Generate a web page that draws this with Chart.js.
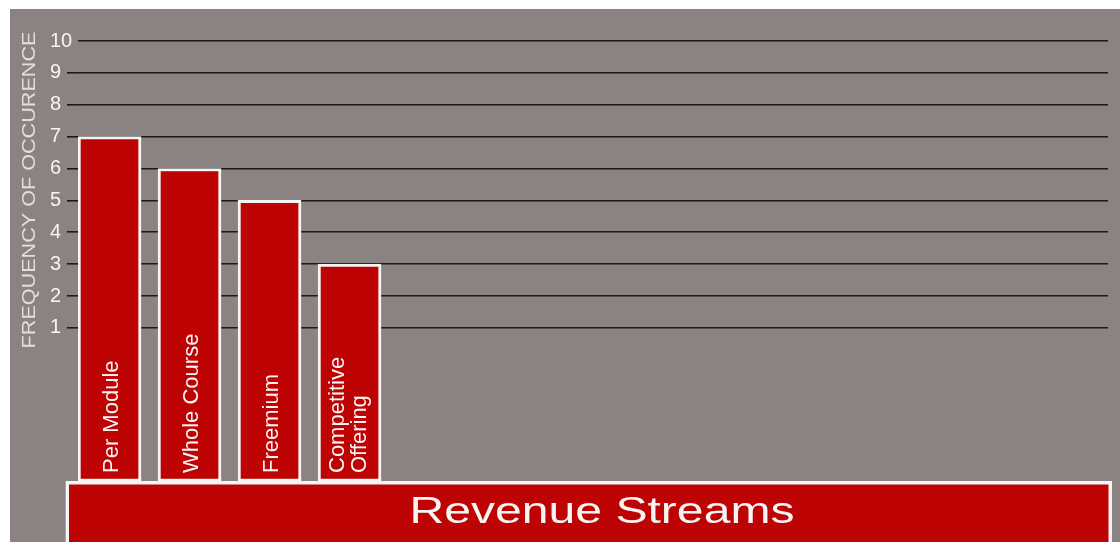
<!DOCTYPE html>
<html><head><meta charset="utf-8">
<script src="https://cdn.jsdelivr.net/npm/chart.js@4.4.1/dist/chart.umd.min.js"></script>
<style>
html,body{margin:0;padding:0;background:#ffffff;width:1120px;height:542px;overflow:hidden}
#wrap{position:absolute;left:10px;top:9px;width:1110px;height:533px;background:#8a8381}
</style></head><body>
<div id="wrap"><canvas id="c"></canvas></div>
<script>
const CATEGORIES = [["Per Module"], ["Whole Course"], ["Freemium"], ["Competitive", "Offering"]];
const FREQUENCY = [7, 6, 5, 3];
const Y_TICKS = [1, 2, 3, 4, 5, 6, 7, 8, 9, 10];
const Y_TITLE = "FREQUENCY OF OCCURENCE";
const X_TITLE = "Revenue Streams";

const RED = '#bd0303';
const WHITE = '#f7f4f4';
const GRID = '#1d1a1a';
const FONT = '"Liberation Sans", Arial, Helvetica, sans-serif';
const Y_MIN = -3.82;

const decor = {
  id: 'decor',
  afterDatasetsDraw(chart) {
    const {ctx, chartArea: ca, scales: {x}} = chart;
    ctx.save();
    const bl = ca.left - 12.5, br = ca.right + 4, bt = ca.bottom - 0.5;
    ctx.fillStyle = RED;
    ctx.fillRect(bl, bt, br - bl, chart.height - bt + 20);
    ctx.strokeStyle = WHITE;
    ctx.lineWidth = 3.5;
    ctx.strokeRect(bl + 1.75, bt + 1.75, br - bl - 3.5, chart.height - bt + 30);
    ctx.fillStyle = WHITE;
    ctx.font = '37px ' + FONT;
    ctx.textAlign = 'center';
    ctx.textBaseline = 'alphabetic';
    ctx.save();
    ctx.translate((ca.left + ca.right) / 2 + 9, bt + 42.3);
    ctx.scale(1.3, 1);
    ctx.fillText(X_TITLE, 0, 0);
    ctx.restore();

    ctx.font = '22px ' + FONT;
    ctx.textAlign = 'left';
    const lh = 22.5;
    CATEGORIES.forEach((lines, i) => {
      const px = x.getPixelForValue(i);
      ctx.save();
      ctx.translate(px, ca.bottom - 8.5);
      ctx.rotate(-Math.PI / 2);
      lines.forEach((t, j) => {
        ctx.fillText(t, 0, 8 + (j - (lines.length - 1) / 2) * lh - (lines.length > 1 ? 2.5 : 0));
      });
      ctx.restore();
    });

    ctx.fillStyle = '#e2dede';
    ctx.font = '18px ' + FONT;
    ctx.textAlign = 'center';
    ctx.save();
    ctx.translate(25, 181);
    ctx.rotate(-Math.PI / 2);
    ctx.scale(1.2, 1);
    ctx.fillText(Y_TITLE, 0, 0);
    ctx.restore();
    ctx.restore();
  }
};

new Chart(document.getElementById('c'), {
  type: 'bar',
  data: {
    datasets: [{
      data: FREQUENCY.map((v, i) => ({x: i, y: v})),
      base: Y_MIN,
      backgroundColor: RED,
      borderColor: WHITE,
      borderWidth: 3,
      borderSkipped: false,
      barThickness: 63
    }]
  },
  options: {
    responsive: true,
    maintainAspectRatio: false,
    animation: false,
    events: [],
    layout: {padding: {left: 40, right: 12, top: 32, bottom: 60.5}},
    plugins: {legend: {display: false}, tooltip: {enabled: false}},
    scales: {
      x: {type: 'linear', min: -0.394, max: 12.48, offset: false, display: false},
      y: {
        min: Y_MIN, max: 10,
        afterBuildTicks: s => { s.ticks = Y_TICKS.map(v => ({value: v})); },
        afterFit: s => { s.width = 28; },
        ticks: {crossAlign: 'far', color: WHITE, font: {size: 20, family: FONT}, padding: 4},
        grid: {
          color: GRID, lineWidth: 1.6, tickLength: 11,
          tickColor: c => (c.tick && c.tick.value === 10) ? 'rgba(0,0,0,0)' : GRID
        },
        border: {display: false}
      }
    }
  },
  plugins: [decor]
});
</script>
</body></html>
